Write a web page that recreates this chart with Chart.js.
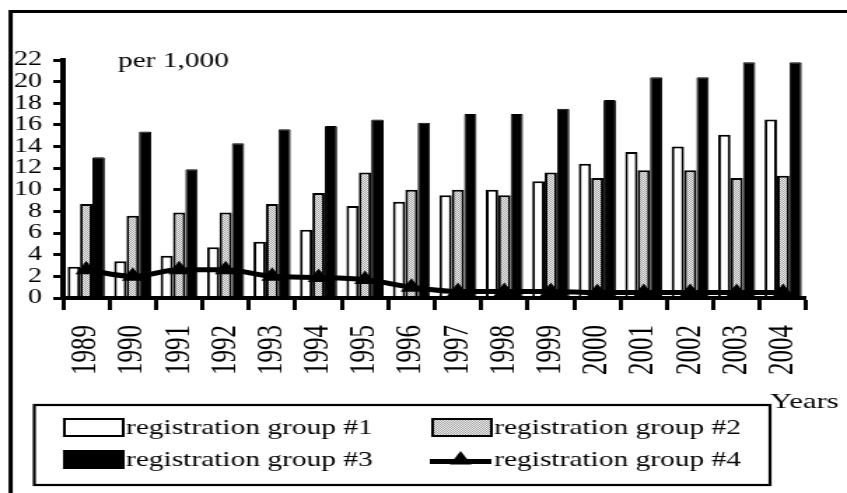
<!DOCTYPE html>
<html>
<head>
<meta charset="utf-8">
<script src="https://cdn.jsdelivr.net/npm/chart.js@4/dist/chart.umd.min.js"></script>
<style>
  html, body { margin: 0; padding: 0; background: #fff; }
  #c { display: block; width: 847px !important; height: 493px !important; }
</style>
</head>
<body>
<canvas id="c" width="605" height="493"></canvas>
<script>
// ---- data ----
const years = ['1989','1990','1991','1992','1993','1994','1995','1996','1997','1998','1999','2000','2001','2002','2003','2004'];
const group1 = [2.9, 3.4, 3.9, 4.7, 5.2, 6.3, 8.5, 8.9, 9.5, 10.0, 10.8, 12.4, 13.5, 14.0, 15.1, 16.5];
const group2 = [8.7, 7.6, 7.9, 7.9, 8.7, 9.7, 11.6, 10.0, 10.0, 9.5, 11.6, 11.1, 11.8, 11.8, 11.1, 11.3];
const group3 = [13.0, 15.4, 11.9, 14.3, 15.6, 15.9, 16.5, 16.2, 17.0, 17.0, 17.5, 18.3, 20.4, 20.4, 21.8, 21.8];
const group4 = [2.6, 2.0, 2.6, 2.6, 2.0, 1.9, 1.7, 1.0, 0.6, 0.6, 0.6, 0.5, 0.5, 0.5, 0.5, 0.5];
const seriesNames = ['registration group #1', 'registration group #2', 'registration group #3', 'registration group #4'];
const unitLabel = 'per 1,000';
const xAxisTitle = 'Years';
const yMax = 22, yStep = 2;

const FONT = '"Liberation Serif", "Times New Roman", serif';

// stippled gray pattern for group 2
function makePattern() {
  const p = document.createElement('canvas');
  p.width = 2; p.height = 2;
  const g = p.getContext('2d');
  g.fillStyle = '#f2f2f2'; g.fillRect(0, 0, 2, 2);
  g.fillStyle = '#a0a0a0'; g.fillRect(0, 0, 1, 1); g.fillRect(1, 1, 1, 1);
  return g.createPattern(p, 'repeat');
}
const ctx = document.getElementById('c').getContext('2d');
const stipple = makePattern();

function drawTriangle(c, x, y, r) {
  c.beginPath();
  c.moveTo(x, y - r);
  c.lineTo(x + r * Math.sqrt(3) / 2, y + r / 2);
  c.lineTo(x - r * Math.sqrt(3) / 2, y + r / 2);
  c.closePath();
  c.fill();
}

const decorPlugin = {
  id: 'decor',
  afterDraw(chart) {
    const c = chart.ctx;
    c.save();
    // outer frame (left and top visible)
    c.strokeStyle = '#000';
    c.lineWidth = 3;
    c.beginPath();
    c.moveTo(7.6, 493); c.lineTo(7.6, 11.5); c.lineTo(605, 11.5);
    c.stroke();

    c.fillStyle = '#000';
    c.textBaseline = 'alphabetic';
    c.textAlign = 'left';
    c.font = '21px ' + FONT;
    c.fillText(unitLabel, 84.3, 67);

    c.font = '22px ' + FONT;
    c.fillText(xAxisTitle, 550, 408);

    // legend box
    c.lineWidth = 2.2;
    c.strokeRect(24.5, 405, 525.5, 80);

    const ds = chart.data.datasets;
    const col1 = 45, col2 = 307, sw = 44, sh = 19;
    const row1 = 427.5, row2 = 459.5;
    c.font = '21px ' + FONT;
    c.textBaseline = 'middle';

    // item 1
    c.fillStyle = '#fff';
    c.fillRect(col1, row1 - sh / 2, sw, sh);
    c.lineWidth = 2;
    c.strokeRect(col1 + 1, row1 - sh / 2 + 1, sw - 2, sh - 2);
    c.fillStyle = '#000';
    c.fillText(ds[0].label, col1 + sw + 1, row1 + 1);

    // item 2
    c.fillStyle = stipple;
    c.fillRect(col2 + 2, row1 - sh / 2, sw - 1, sh);
    c.strokeRect(col2 + 2, row1 - sh / 2 + 1, sw - 2, sh - 2);
    c.fillStyle = '#000';
    c.fillText(ds[1].label, col2 + sw + 2, row1 + 1);

    // item 3
    c.fillStyle = '#000';
    c.fillRect(col1, row2 - sh / 2, sw, sh);
    c.fillText(ds[2].label, col1 + sw + 1, row2 + 1);

    // item 4
    c.lineWidth = 5;
    c.beginPath();
    c.moveTo(col2, row2 + 2); c.lineTo(col2 + sw, row2 + 2);
    c.stroke();
    drawTriangle(c, col2 + sw / 2, row2 + 0.5, 9);
    c.fillText(ds[3].label, col2 + sw + 2, row2 + 1);

    c.restore();
  }
};

new Chart(ctx, {
  data: {
    labels: years,
    datasets: [
      { type: 'bar', label: seriesNames[0], data: group1, backgroundColor: '#ffffff', borderColor: '#000', borderWidth: 2, order: 2 },
      { type: 'bar', label: seriesNames[1], data: group2, backgroundColor: stipple, borderColor: '#000', borderWidth: 2, order: 2 },
      { type: 'bar', label: seriesNames[2], data: group3, backgroundColor: '#000000', borderColor: '#000', borderWidth: 1, borderRadius: 1, order: 2 },
      { type: 'line', label: seriesNames[3], data: group4, borderColor: '#000', backgroundColor: '#000', borderWidth: 5,
        cubicInterpolationMode: 'monotone', pointStyle: 'triangle', pointRadius: 9, pointBackgroundColor: '#000',
        pointBorderColor: '#000', pointBorderWidth: 0, fill: false, order: 0 }
    ]
  },
  options: {
    responsive: false,
    animation: false,
    devicePixelRatio: 1,
    layout: { padding: { top: 60, left: 0, right: 19.3, bottom: 95 } },
    datasets: { bar: { categoryPercentage: 0.8, barPercentage: 1.0 } },
    plugins: { legend: { display: false }, tooltip: { enabled: false } },
    scales: {
      x: {
        type: 'category',
        offset: true,
        grid: { offset: true, drawOnChartArea: false, drawTicks: true, tickLength: 12, tickWidth: 3, tickColor: '#000' },
        border: { display: true, color: '#000', width: 4, z: 1 },
        ticks: { autoSkip: false, minRotation: 90, maxRotation: 90, padding: 15, color: '#000', font: { family: FONT, size: 25 } },
        afterFit(scale) { scale.height = 100; }
      },
      y: {
        min: 0, max: yMax,
        grid: { drawOnChartArea: false, drawTicks: true, tickLength: 7, tickWidth: 3, tickColor: '#000' },
        border: { display: true, color: '#000', width: 4, z: 1 },
        ticks: { stepSize: yStep, autoSkip: false, padding: 8, color: '#000', font: { family: FONT, size: 20 } },
        afterFit(scale) { scale.width = 45; }
      }
    }
  },
  plugins: [decorPlugin]
});
</script>
</body>
</html>
